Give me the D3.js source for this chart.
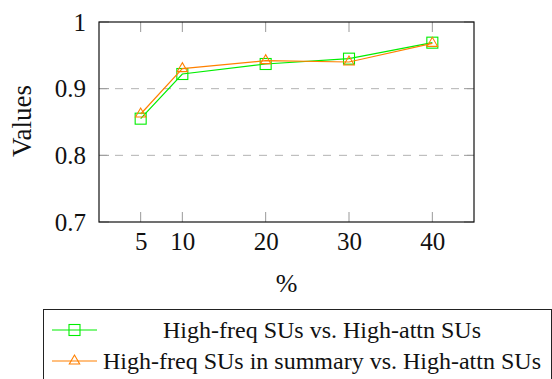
<!DOCTYPE html>
<html>
<head>
<meta charset="utf-8">
<script src="https://cdn.jsdelivr.net/npm/d3@7"></script>
<style>
  body { margin: 0; background: #fff; }
</style>
</head>
<body>
<div id="chart"></div>
<script>
// data
const xValues = [5, 10, 20, 30, 40];
const freqVsAttn = [0.855, 0.922, 0.937, 0.945, 0.969];
const summaryVsAttn = [0.862, 0.930, 0.942, 0.940, 0.968];
const yTicks = [0.7, 0.8, 0.9, 1];
const seriesNames = ["High-freq SUs vs. High-attn SUs", "High-freq SUs in summary vs. High-attn SUs"];

const width = 552;
const height = 379;
const plot = { left: 99, right: 474, top: 22, bottom: 222 };
const serif = "'Liberation Serif', 'DejaVu Serif', serif";

const green = "#00ee00";
const orange = "#ff8000";

const svg = d3.select("#chart").append("svg")
    .attr("width", width)
    .attr("height", height)
    .style("font-family", serif);

const x = d3.scaleLinear().domain([0, 45]).range([plot.left, plot.right]);
const y = d3.scaleLinear().domain([0.7, 1]).range([plot.bottom, plot.top]);

// dashed grid at the inner ticks
svg.append("g")
    .selectAll("line")
    .data([0.8, 0.9])
    .join("line")
    .attr("x1", plot.left).attr("x2", plot.right)
    .attr("y1", d => y(d)).attr("y2", d => y(d))
    .attr("stroke", "#b3b3b3")
    .attr("stroke-width", 1)
    .attr("stroke-dasharray", "8,8");

// inward ticks on all four sides
const tickLen = 10;
const ticks = svg.append("g").attr("stroke", "#999").attr("stroke-width", 1);
xValues.forEach(v => {
    ticks.append("line").attr("x1", x(v)).attr("x2", x(v)).attr("y1", plot.bottom).attr("y2", plot.bottom - tickLen);
    ticks.append("line").attr("x1", x(v)).attr("x2", x(v)).attr("y1", plot.top).attr("y2", plot.top + tickLen);
});
yTicks.forEach(v => {
    ticks.append("line").attr("y1", y(v)).attr("y2", y(v)).attr("x1", plot.left).attr("x2", plot.left + tickLen);
    ticks.append("line").attr("y1", y(v)).attr("y2", y(v)).attr("x1", plot.right).attr("x2", plot.right - tickLen);
});

// tick labels via d3 axes, with the axis lines hidden
svg.append("g")
    .attr("transform", `translate(0,${plot.bottom})`)
    .call(d3.axisBottom(x).tickValues(xValues).tickSize(0).tickPadding(10))
    .attr("font-family", null)
    .call(g => g.select(".domain").remove())
    .call(g => g.selectAll("text").style("font-family", serif).style("font-size", "25px").attr("fill", "#111"));

svg.append("g")
    .attr("transform", `translate(${plot.left},0)`)
    .call(d3.axisLeft(y).tickValues(yTicks).tickSize(0).tickPadding(13).tickFormat(d => d === 1 ? "1" : d3.format(".1f")(d)))
    .attr("font-family", null)
    .call(g => g.select(".domain").remove())
    .call(g => g.selectAll("text").style("font-family", serif).style("font-size", "25px").attr("fill", "#111"));

// plot frame
svg.append("rect")
    .attr("x", plot.left).attr("y", plot.top)
    .attr("width", plot.right - plot.left).attr("height", plot.bottom - plot.top)
    .attr("fill", "none").attr("stroke", "#111").attr("stroke-width", 1.2);

// axis titles
svg.append("text")
    .attr("transform", `translate(31,${(plot.top + plot.bottom) / 2 - 1}) rotate(-90)`)
    .attr("text-anchor", "middle")
    .attr("font-size", 27)
    .attr("fill", "#111")
    .text("Values");

svg.append("text")
    .attr("x", (plot.left + plot.right) / 2)
    .attr("y", 292)
    .attr("text-anchor", "middle")
    .attr("font-size", 26)
    .attr("fill", "#111")
    .text("%");

const line = d3.line().x((d, i) => x(xValues[i])).y(d => y(d));

function square(g, cx, cy, color) {
    g.append("rect").attr("x", cx - 5.5).attr("y", cy - 5.5).attr("width", 11).attr("height", 11)
        .attr("fill", "none").attr("stroke", color).attr("stroke-width", 1.1);
}
function triangle(g, cx, cy, color) {
    const r = 6;
    const pts = [[cx, cy - r], [cx - r * 0.866, cy + r * 0.5], [cx + r * 0.866, cy + r * 0.5]];
    g.append("polygon").attr("points", pts.map(p => p.join(",")).join(" "))
        .attr("fill", "none").attr("stroke", color).attr("stroke-width", 1.1);
}

const series = [
    { values: freqVsAttn, color: green, marker: square },
    { values: summaryVsAttn, color: orange, marker: triangle }
];

series.forEach(s => {
    const g = svg.append("g");
    g.append("path")
        .attr("d", line(s.values))
        .attr("fill", "none")
        .attr("stroke", s.color)
        .attr("stroke-width", 1.2);
    s.values.forEach((v, i) => s.marker(g, x(xValues[i]), y(v), s.color));
});

// legend
const legend = svg.append("g");
legend.append("rect")
    .attr("x", 43.5).attr("y", 309.5)
    .attr("width", 508).attr("height", 80)
    .attr("fill", "#fff").attr("stroke", "#222").attr("stroke-width", 1);

const rowY = [330, 361];
const textCenter = 322;
series.forEach((s, i) => {
    legend.append("line")
        .attr("x1", 52).attr("x2", 97)
        .attr("y1", rowY[i]).attr("y2", rowY[i])
        .attr("stroke", s.color).attr("stroke-width", 1.2);
    s.marker(legend, 74.5, rowY[i], s.color);
    legend.append("text")
        .attr("x", textCenter)
        .attr("y", rowY[i])
        .attr("dy", "0.33em")
        .attr("text-anchor", "middle")
        .attr("font-size", 24)
        .attr("fill", "#111")
        .text(seriesNames[i]);
});
</script>
</body>
</html>
